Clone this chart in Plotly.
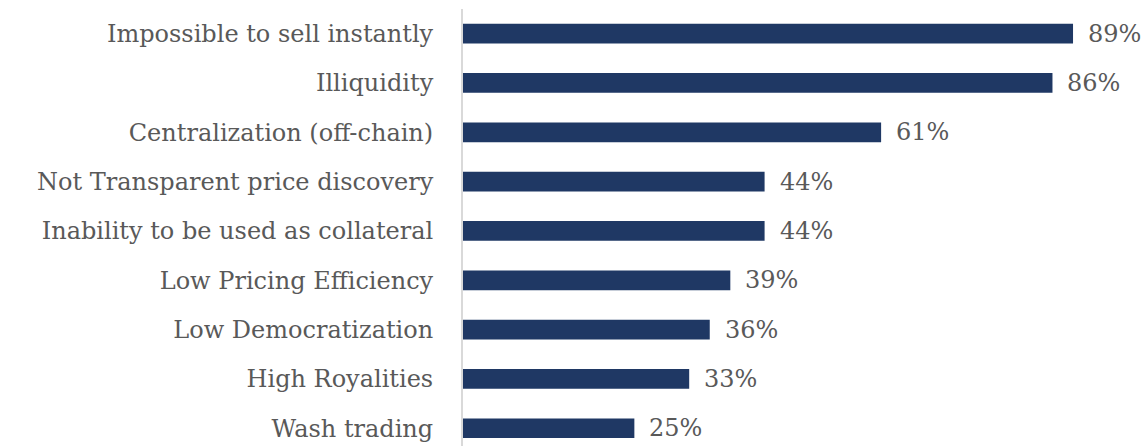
import plotly.graph_objects as go

# Survey results: perceived NFT market problems (share of respondents, %)
categories = [
    "Impossible to sell instantly",
    "Illiquidity",
    "Centralization (off-chain)",
    "Not Transparent price discovery",
    "Inability to be used as collateral",
    "Low Pricing Efficiency",
    "Low Democratization",
    "High Royalities",
    "Wash trading",
]
values = [89, 86, 61, 44, 44, 39, 36, 33, 25]

BAR_COLOR = "#1F3864"
TEXT_COLOR = "#595959"
FONT = "DejaVu Serif"
FONT_SIZE = 24

positions = list(range(len(categories)))

fig = go.Figure(
    go.Bar(
        x=values,
        y=positions,
        orientation="h",
        marker=dict(color=BAR_COLOR, line=dict(width=0)),
        width=0.4,
        hoverinfo="skip",
    )
)

# Percentage labels to the right of each bar
for pos, val in zip(positions, values):
    fig.add_annotation(
        x=val, y=pos, text=f"{val}%", showarrow=False,
        xanchor="left", yanchor="middle", xshift=13,
        font=dict(family=FONT, size=FONT_SIZE, color=TEXT_COLOR),
    )

fig.update_layout(
    width=1145, height=446,
    margin=dict(l=463, r=0, t=9, b=0),
    plot_bgcolor="white", paper_bgcolor="white",
    showlegend=False,
    font=dict(family=FONT, size=FONT_SIZE, color=TEXT_COLOR),
)
fig.update_xaxes(
    range=[0, 99.5], showgrid=False, zeroline=False,
    showticklabels=False, showline=False, fixedrange=True,
)
fig.update_yaxes(
    range=[len(categories) - 1 + 0.36, -0.5],
    tickmode="array", tickvals=positions, ticktext=categories,
    showgrid=False, zeroline=False,
    showline=True, linecolor="#D9D9D9", linewidth=2,
    ticks="", ticklabelstandoff=23,
    tickfont=dict(family=FONT, size=FONT_SIZE, color=TEXT_COLOR),
)

fig.write_html("out.html")
